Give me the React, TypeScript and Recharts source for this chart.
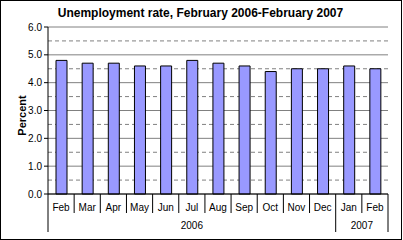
import React from "react";
import { BarChart, Bar, XAxis, YAxis, CartesianGrid } from "recharts";

const MONTHS = ["Feb", "Mar", "Apr", "May", "Jun", "Jul", "Aug", "Sep", "Oct", "Nov", "Dec", "Jan", "Feb"];
const YEARS = ["2006", "2006", "2006", "2006", "2006", "2006", "2006", "2006", "2006", "2006", "2006", "2007", "2007"];
const RATES = [4.8, 4.7, 4.7, 4.6, 4.6, 4.8, 4.7, 4.6, 4.4, 4.5, 4.5, 4.6, 4.5];
const MAJOR_TICKS = [0, 1, 2, 3, 4, 5, 6];
const MINOR_TICKS = [0.5, 1.5, 2.5, 3.5, 4.5, 5.5];

const data = MONTHS.map((m, i) => ({ key: `${m}-${YEARS[i]}`, month: m, year: YEARS[i], rate: RATES[i] }));

const W = 401;
const H = 239;
const MARGIN = { top: 27, right: 13, left: 0, bottom: 0 };
const Y_AXIS_W = 48;
const X_AXIS_H = 45;
const FONT = "'Liberation Sans', Arial, sans-serif";
const HALF_BAND = (W - MARGIN.right - Y_AXIS_W) / MONTHS.length / 2;

// year groups: first/last index of each year
const yearGroups = YEARS.reduce<{ year: string; first: number; last: number }[]>((acc, y, i) => {
  const g = acc[acc.length - 1];
  if (g && g.year === y) g.last = i;
  else acc.push({ year: y, first: i, last: i });
  return acc;
}, []);

function MonthTick(props: any) {
  const { x, y, index, payload } = props;
  const half = payload?.offset || HALF_BAND;
  const yearStart = index === 0 || YEARS[index] !== YEARS[index - 1];
  const isLast = index === MONTHS.length - 1;
  const group = yearGroups.find((g) => Math.floor((g.first + g.last) / 2) === index);
  let yearX = 0;
  if (group) yearX = x + ((g => (g.first + g.last) / 2 - Math.floor((g.first + g.last) / 2))(group)) * 2 * half;
  return (
    <g>
      <line x1={x - half} x2={x - half} y1={y} y2={yearStart ? y + 38 : y + 19} stroke="#000" />
      {isLast && <line x1={x + half} x2={x + half} y1={y} y2={y + 38} stroke="#000" />}
      <text x={x} y={y + 17} textAnchor="middle" fontSize={10} fontFamily={FONT} fill="#000">
        {MONTHS[index]}
      </text>
      {group && (
        <text x={yearX} y={y + 35} textAnchor="middle" fontSize={10} fontFamily={FONT} fill="#000">
          {group.year}
        </text>
      )}
    </g>
  );
}

function PercentLabel(props: any) {
  const vb = props.viewBox || { x: 0, y: MARGIN.top, height: 167 };
  const cy = vb.y + vb.height / 2 + 5;
  return (
    <text x={26} y={cy} transform={`rotate(-90, 26, ${cy})`} textAnchor="middle"
      fontSize={11} fontWeight="bold" fontFamily={FONT} fill="#000">
      Percent
    </text>
  );
}

export default function App() {
  return (
    <div style={{ position: "absolute", left: 0, top: 0, width: 403, height: 240, background: "#fff" }}>
      <div style={{ position: "absolute", left: 0, top: 0, width: 400, height: 238, border: "1px solid #000" }} />
      <div style={{
        position: "absolute", left: 0, top: 6, width: W, textAlign: "center",
        fontFamily: FONT, fontSize: 12, fontWeight: "bold", color: "#000", lineHeight: "14px",
      }}>
        Unemployment rate, February 2006-February 2007
      </div>
      <div style={{ position: "absolute", left: 0, top: 0 }}>
        <BarChart width={W} height={H} data={data} margin={MARGIN} barSize={11}>
          <CartesianGrid vertical={false} horizontalValues={MINOR_TICKS} stroke="#808080" strokeDasharray="4 3" />
          <CartesianGrid vertical={false} horizontalValues={MAJOR_TICKS} stroke="#808080" />
          <XAxis dataKey="key" height={X_AXIS_H} tickLine={false} tickSize={0} tickMargin={0}
            axisLine={{ stroke: "#000" }} tick={<MonthTick />} interval={0} />
          <XAxis xAxisId="top" orientation="top" dataKey="key" height={0} tick={false} tickLine={false}
            axisLine={{ stroke: "#000" }} />
          <YAxis domain={[0, 6]} ticks={MAJOR_TICKS} width={Y_AXIS_W} tickSize={4} tickMargin={2}
            tickFormatter={(v: number) => v.toFixed(1)} axisLine={{ stroke: "#000" }} tickLine={{ stroke: "#000" }}
            tick={{ fontSize: 10, fontFamily: FONT, fill: "#000" }} label={<PercentLabel />} />
          <YAxis yAxisId="right" orientation="right" domain={[0, 6]} width={0} tick={false} tickLine={false}
            axisLine={{ stroke: "#000" }} />
          <Bar dataKey="rate" fill="#9999FF" stroke="#000" strokeWidth={1} isAnimationActive={false} />
        </BarChart>
      </div>
    </div>
  );
}
